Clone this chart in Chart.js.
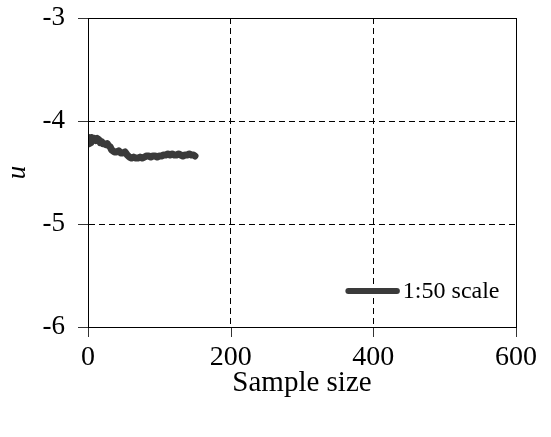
<!DOCTYPE html>
<html>
<head>
<meta charset="utf-8">
<script src="https://cdn.jsdelivr.net/npm/chart.js@4.4.0/dist/chart.umd.min.js"></script>
<style>
html,body{margin:0;padding:0;background:#fff;}
#wrap{position:relative;width:551px;height:437px;}
</style>
</head>
<body>
<div id="wrap"><canvas id="c" width="551" height="437"></canvas></div>
<script>
const sampleSize = [1,2,3,4,5,7,9,11,13,15,17,19,21,23,25,27,29,31,33,35,37,40,43,46,49,52,55,58,61,64,67,70,73,76,79,82,85,88,91,94,97,100,103,106,109,112,115,118,121,124,127,130,133,136,139,142,145,148,150];
const uValues = [-4.16,-4.22,-4.17,-4.21,-4.16,-4.18,-4.17,-4.19,-4.17,-4.18,-4.21,-4.20,-4.22,-4.22,-4.23,-4.22,-4.24,-4.25,-4.28,-4.29,-4.30,-4.30,-4.29,-4.31,-4.31,-4.30,-4.33,-4.35,-4.36,-4.35,-4.36,-4.36,-4.35,-4.36,-4.35,-4.34,-4.34,-4.35,-4.34,-4.34,-4.35,-4.34,-4.34,-4.33,-4.33,-4.32,-4.33,-4.32,-4.33,-4.33,-4.32,-4.33,-4.34,-4.33,-4.33,-4.32,-4.33,-4.33,-4.34];
const seriesLabel = '1:50 scale';
const xTicks = [0,200,400,600];
const yTicks = [-6,-5,-4,-3];

const FONT = '"Liberation Serif", "Times New Roman", serif';
const points = sampleSize.map((x,i)=>({x:x,y:uValues[i]}));

const frame = {
  id:'frame',
  afterDraw(chart){
    const {ctx, chartArea:a} = chart;
    const xs = chart.scales.x, ys = chart.scales.y;
    ctx.save();
    ctx.strokeStyle='#333';
    ctx.lineWidth=1;
    ctx.beginPath();
    xTicks.forEach(v=>{ const px=Math.round(xs.getPixelForValue(v))+0.5; ctx.moveTo(px,a.bottom); ctx.lineTo(px,a.bottom+10); });
    yTicks.forEach(v=>{ const py=Math.round(ys.getPixelForValue(v))+0.5; ctx.moveTo(a.left-10,py); ctx.lineTo(a.left,py); });
    ctx.stroke();
    ctx.strokeStyle='#000';
    ctx.strokeRect(Math.round(a.left)+0.5, Math.round(a.top)+0.5, Math.round(a.right-a.left), Math.round(a.bottom-a.top));
    const ds = chart.data.datasets[0];
    const ly = ys.getPixelForValue(-5.65);
    const lx1 = xs.getPixelForValue(365);
    const lx2 = xs.getPixelForValue(433);
    ctx.strokeStyle = ds.borderColor;
    ctx.lineWidth = 6;
    ctx.lineCap='round';
    ctx.beginPath(); ctx.moveTo(lx1, ly); ctx.lineTo(lx2, ly); ctx.stroke();
    ctx.fillStyle='#000';
    ctx.font = '24px ' + FONT;
    ctx.textBaseline='middle';
    ctx.textAlign='left';
    ctx.fillText(ds.label, lx2+6, ly+1);
    ctx.restore();
  }
};

new Chart(document.getElementById('c'), {
  type:'line',
  data:{datasets:[{
    label: seriesLabel,
    data: points,
    borderColor:'#3a3a3a',
    backgroundColor:'#3a3a3a',
    borderWidth:7,
    borderJoinStyle:'round',
    borderCapStyle:'round',
    pointRadius:0,
    tension:0,
    fill:false
  }]},
  options:{
    responsive:false,
    animation:false,
    devicePixelRatio:1,
    layout:{padding:{left:0,right:35,top:18,bottom:0}},
    plugins:{legend:{display:false},tooltip:{enabled:false}},
    scales:{
      x:{
        type:'linear', min:0, max:600,
        afterBuildTicks(axis){ axis.ticks = xTicks.map(v=>({value:v})); },
        afterFit(axis){ axis.height = 110; axis.paddingLeft = 0; axis.paddingRight = 0; },
        ticks:{color:'#000', font:{family:FONT,size:28}, padding:4, maxRotation:0},
        grid:{
          color:(c)=> (c.tick && (c.tick.value===0 || c.tick.value===600)) ? 'rgba(0,0,0,0)' : '#000',
          lineWidth:1, tickLength:10, drawTicks:true, tickColor:'rgba(0,0,0,0)'
        },
        border:{display:true,color:'#000',dash:[6,4]},
        title:{display:true,text:'Sample size',color:'#000',font:{family:FONT,size:29},padding:{top:0,bottom:36}}
      },
      y:{
        type:'linear', min:-6, max:-3,
        afterBuildTicks(axis){ axis.ticks = yTicks.map(v=>({value:v})); },
        afterFit(axis){ axis.width = 88; axis.paddingTop = 0; axis.paddingBottom = 0; },
        ticks:{color:'#000', font:{family:FONT,size:27}, padding:13},
        grid:{
          color:(c)=> (c.tick && (c.tick.value===-6 || c.tick.value===-3)) ? 'rgba(0,0,0,0)' : '#000',
          lineWidth:1, tickLength:10, drawTicks:true, tickColor:'rgba(0,0,0,0)'
        },
        border:{display:true,color:'#000',dash:[6,4]},
        title:{display:true,text:'u',color:'#000',font:{family:FONT,size:27,style:'italic'},padding:{top:2,bottom:0}}
      }
    }
  },
  plugins:[frame]
});
</script>
</body>
</html>
